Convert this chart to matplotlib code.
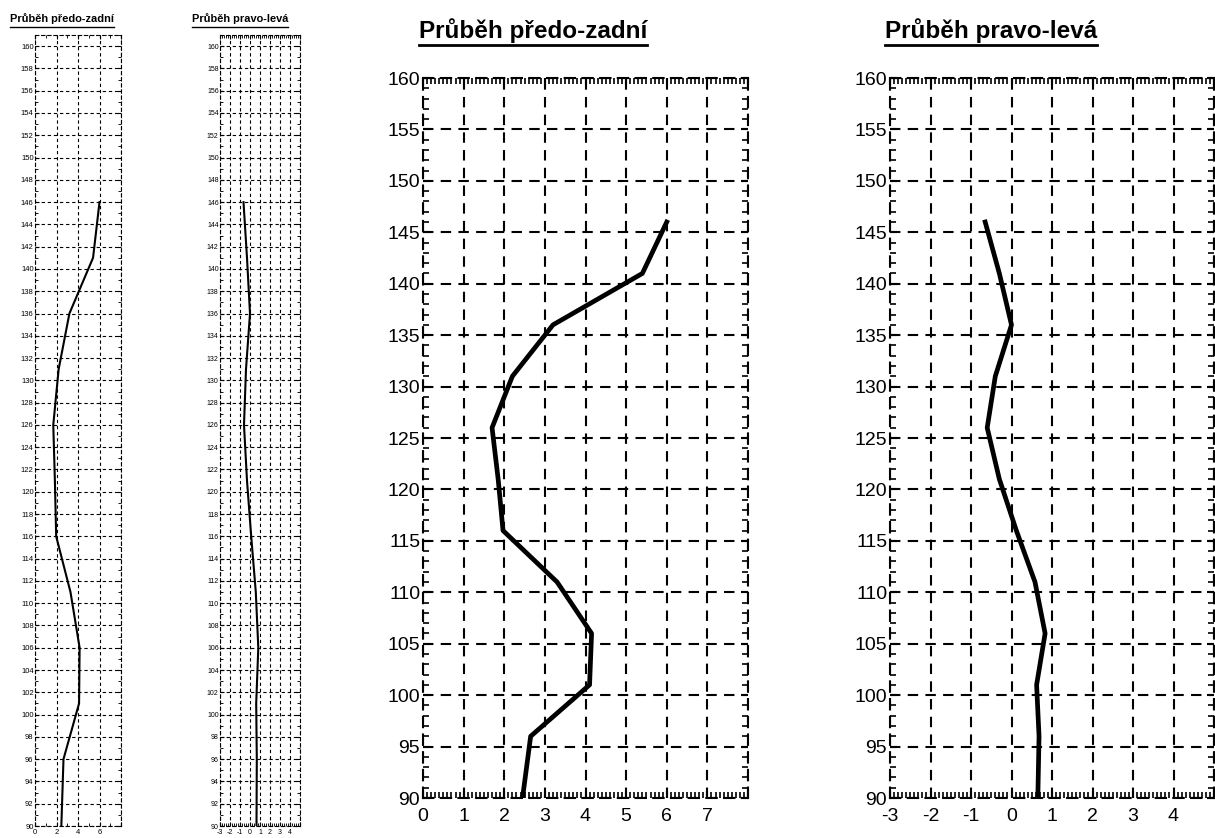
import numpy as np
import matplotlib
matplotlib.use("Agg")
import matplotlib.pyplot as plt
from matplotlib.lines import Line2D
from matplotlib.ticker import MultipleLocator

plt.rcParams["font.family"] = ["Liberation Sans", "DejaVu Sans"]
plt.rcParams["axes.unicode_minus"] = False

# measured heights (cm) and deviations
heights = [90, 96, 101, 106, 111, 116, 121, 126, 131, 136, 141, 146]
predo_zadni = [2.45, 2.65, 4.1, 4.15, 3.3, 1.97, 1.85, 1.7, 2.2, 3.2, 5.4, 6.0]
pravo_leva = [0.65, 0.68, 0.62, 0.83, 0.58, 0.12, -0.3, -0.6, -0.4, 0.0, -0.3, -0.65]

title_pz = "Průběh předo-zadní"
title_pl = "Průběh pravo-levá"

W, H = 1215, 838
fig = plt.figure(figsize=(W / 100, H / 100), dpi=100)


def px_axes(left, right, top, bottom):
    return fig.add_axes([left / W, 1 - bottom / H, (right - left) / W, (bottom - top) / H])


def style(ax, xlim, ylim, xmaj, ymaj, ymin, xmin, fs, glw, dash, big):
    ax.set_xlim(*xlim)
    ax.set_ylim(*ylim)
    ax.xaxis.set_major_locator(MultipleLocator(xmaj))
    ax.yaxis.set_major_locator(MultipleLocator(ymaj))
    ax.yaxis.set_minor_locator(MultipleLocator(ymin))
    ax.xaxis.set_minor_locator(MultipleLocator(xmin))
    ax.grid(True, which="major", color="black", linestyle=(0, dash), linewidth=glw)
    for s in ax.spines.values():
        s.set_linestyle((0, dash))
        s.set_linewidth(glw)
    L = 5 if big else 3
    ax.tick_params(which="major", direction="in", length=L, width=glw,
                   top=True, right=True, labelsize=fs, pad=2 if big else 1)
    ax.tick_params(which="minor", direction="in", length=L * 0.8, width=glw * 0.8,
                   top=True, right=True)
    ax.tick_params(axis="x", pad=7 if big else 2)


def title_under(x, y, text, fs, lw):
    t = fig.text(x / W, 1 - y / H, text, fontsize=fs, fontweight="bold",
                 ha="left", va="baseline")
    fig.canvas.draw()
    bb = t.get_window_extent().transformed(fig.transFigure.inverted())
    yl = bb.y0 - 2.5 / H
    fig.add_artist(Line2D([bb.x0, bb.x1], [yl, yl], color="black", linewidth=lw,
                          transform=fig.transFigure))


# small panels
ax1 = px_axes(35, 121, 35, 826)
ax1.plot(predo_zadni, heights, color="black", linewidth=1.5)
style(ax1, (0, 8), (90, 161), 2, 2, 1, 1, 5.5, 0.8, (3, 2.5), False)
ax1.set_xticks([0, 2, 4, 6, 8], ["0", "2", "4", "6", ""])

ax2 = px_axes(220, 300, 35, 826)
ax2.plot(pravo_leva, heights, color="black", linewidth=1.5)
style(ax2, (-3, 5), (90, 161), 1, 2, 1, 0.2, 5, 0.8, (3, 2.5), False)
ax2.set_xticks(range(-3, 6), [str(v) for v in range(-3, 5)] + [""])

# large panels
ax3 = px_axes(423, 748, 78, 798)
ax3.plot(predo_zadni, heights, color="black", linewidth=3.4)
style(ax3, (0, 8), (90, 160), 1, 5, 1, 0.1, 14, 1.5, (5, 3.5), True)
ax3.set_xticks(range(0, 9), [str(v) for v in range(0, 8)] + [""])

ax4 = px_axes(890, 1214, 78, 798)
ax4.plot(pravo_leva, heights, color="black", linewidth=3.4)
style(ax4, (-3, 5), (90, 160), 1, 5, 1, 0.1, 14, 1.5, (5, 3.5), True)
ax4.set_xticks(range(-3, 6), [str(v) for v in range(-3, 5)] + [""])

title_under(10, 22, title_pz, 7.9, 1.0)
title_under(192, 22, title_pl, 7.9, 1.0)
title_under(419, 38, title_pz, 17.5, 2.0)
title_under(885, 38, title_pl, 17.5, 2.0)

fig.savefig("out.png", dpi=100)
